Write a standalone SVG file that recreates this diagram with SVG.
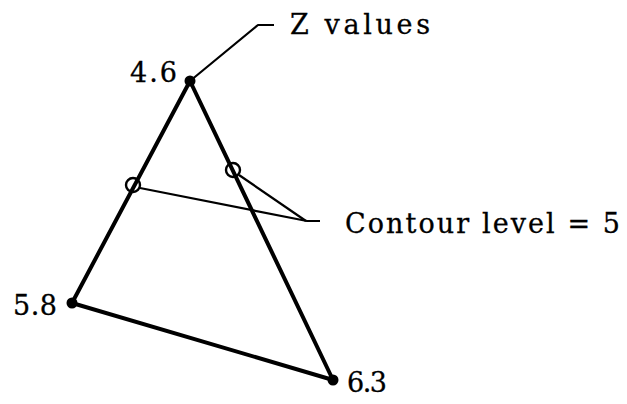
<svg xmlns="http://www.w3.org/2000/svg" width="627" height="404" viewBox="0 0 627 404">
<style>
.edge{stroke:#000;stroke-width:4;fill:none;stroke-linecap:round;stroke-linejoin:round}
.lead{stroke:#000;stroke-width:2.2;fill:none;stroke-linejoin:round}
.ring{stroke:#000;stroke-width:2.4;fill:none}
.t{font-family:"DejaVu Serif",serif;font-size:27px;fill:#000;stroke:#000;stroke-width:0.3}
</style>
<rect width="627" height="404" fill="#fff"/>
<g id="connectors">
<path class="edge" d="M190,81 L72,303 L333,380 Z"/>
<path class="lead" d="M190,81 L258,25 L274,25"/>
<path class="lead" d="M140,188 L307,221 L320,221"/>
<path class="lead" d="M239,175 L306,221"/>
</g>
<g id="v46"><circle cx="190" cy="81" r="5.5"/><text class="t" x="130" y="82" textLength="47">4.6</text></g>
<g id="v58"><circle cx="72" cy="303" r="5.5"/><text class="t" x="13" y="315" textLength="44">5.8</text></g>
<g id="v63"><circle cx="333" cy="380" r="5.5"/><text class="t" x="347" y="392" textLength="40">6.3</text></g>
<g id="c1"><circle class="ring" cx="133" cy="185" r="7"/></g>
<g id="c2"><circle class="ring" cx="233" cy="170" r="7"/></g>
<g id="zlabel"><text class="t" x="290" y="34" textLength="140">Z values</text></g>
<g id="clabel"><text class="t" x="345" y="233" textLength="275">Contour level = 5</text></g>
</svg>
